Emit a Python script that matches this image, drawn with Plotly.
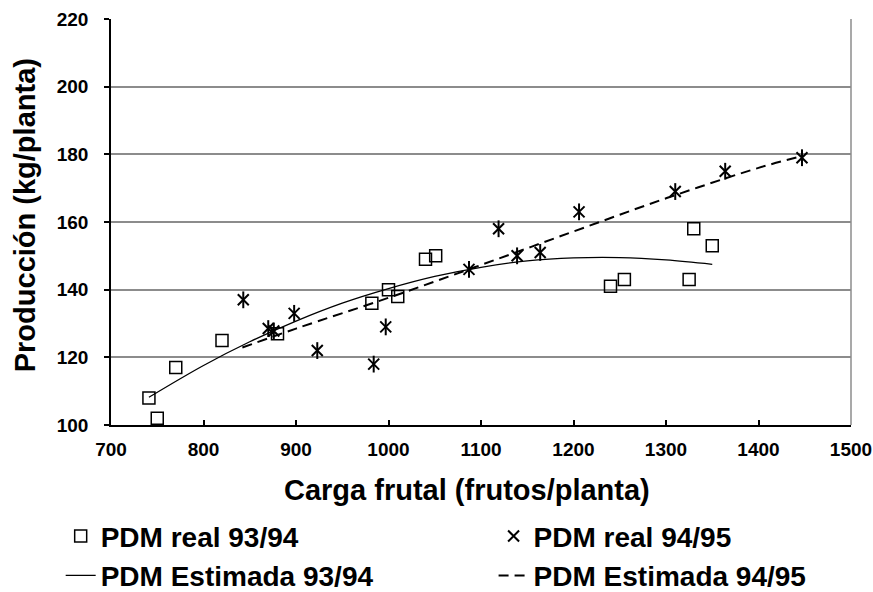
import plotly.graph_objects as go

# Observed data, PDM real 93/94 (squares)
real9394_x = [741, 750, 770, 820, 880, 982, 1000, 1010, 1040, 1051, 1240, 1255, 1325, 1330, 1350]
real9394_y = [108, 102, 117, 125, 127, 136, 140, 138, 149, 150, 141, 143, 143, 158, 153]

# Observed data, PDM real 94/95 (asterisks)
real9495_x = [843, 870, 876, 898, 923, 984, 997, 1087, 1119, 1139, 1164, 1206, 1310, 1364, 1447]
real9495_y = [137, 128.5, 127.8, 133, 122, 118, 129, 146, 158, 150, 151, 163, 169, 175, 179]

# Estimated curves
est9394_x = [741, 800, 850, 900, 950, 1000, 1050, 1100, 1150, 1200, 1250, 1300, 1350]
est9394_y = [108.2, 117.6, 124.6, 130.7, 136.0, 140.3, 143.9, 146.6, 148.5, 149.4, 149.5, 148.8, 147.5]

est9495_x = [842, 900, 1000, 1100, 1200, 1300, 1400, 1447]
est9495_y = [122.9, 128.5, 137.6, 147.3, 157.2, 167.0, 176.0, 179.5]

x_ticks = [700, 800, 900, 1000, 1100, 1200, 1300, 1400, 1500]
y_ticks = [100, 120, 140, 160, 180, 200, 220]

x_title = "Carga frutal (frutos/planta)"
y_title = "Producción (kg/planta)"

FONT = "Liberation Sans, Arial, sans-serif"

fig = go.Figure()
fig.add_trace(go.Scatter(
    x=real9394_x, y=real9394_y, mode="markers", name="PDM real 93/94",
    legend="legend", legendgroup="a",
    marker=dict(symbol="square-open", size=12, color="black", line=dict(width=1.5, color="black")),
))
fig.add_trace(go.Scatter(
    x=real9495_x, y=real9495_y, mode="markers", name="PDM real 94/95",
    legend="legend2", legendgroup="b",
    marker=dict(symbol="x-thin-open", size=11, color="black", line=dict(width=2, color="black")),
))
fig.add_trace(go.Scatter(
    x=est9394_x, y=est9394_y, mode="lines", name="PDM Estimada 93/94",
    legend="legend", legendgroup="c",
    line=dict(color="black", width=1.3, shape="spline"),
))
fig.add_trace(go.Scatter(
    x=est9495_x, y=est9495_y, mode="lines", name="PDM Estimada 94/95",
    legend="legend2", legendgroup="d",
    line=dict(color="black", width=2, dash="10px,6px", shape="spline"),
))
# vertical stroke of the asterisk markers
fig.add_trace(go.Scatter(
    x=real9495_x, y=real9495_y, mode="markers", showlegend=False, hoverinfo="skip",
    marker=dict(symbol="line-ns-open", size=12, color="black", line=dict(width=2, color="black")),
))

legend_style = dict(
    orientation="v", xanchor="left", yanchor="top", y=-0.2127,
    font=dict(family=FONT, size=28, weight="bold", color="black"),
    tracegroupgap=0, bgcolor="rgba(0,0,0,0)",
)

fig.update_layout(
    width=873, height=592,
    margin=dict(l=111, r=22, t=19, b=167, autoexpand=False),
    paper_bgcolor="white", plot_bgcolor="white",
    font=dict(family=FONT, color="black"),
    showlegend=True,
    legend=dict(x=-0.068, **legend_style),
    legend2=dict(x=0.517, **legend_style),
    shapes=[dict(type="line", xref="paper", yref="paper", x0=1, x1=1, y0=0, y1=1,
                 line=dict(color="#8c8c8c", width=1.5))],
    annotations=[
        dict(text=x_title, xref="paper", yref="paper", x=0.481, y=-0.16,
             xanchor="center", yanchor="middle", showarrow=False,
             font=dict(family=FONT, size=29, weight="bold", color="black")),
        dict(text=y_title, xref="paper", yref="paper", x=-0.116, y=0.517,
             xanchor="center", yanchor="middle", showarrow=False, textangle=-90,
             font=dict(family=FONT, size=29, weight="bold", color="black")),
    ],
)
fig.update_xaxes(
    range=[700, 1500], tickvals=x_ticks, ticktext=[str(v) for v in x_ticks],
    showgrid=False, zeroline=False,
    showline=True, linecolor="black", linewidth=1.5,
    ticks="inside", ticklen=5, tickwidth=1.5, tickcolor="black",
    tickfont=dict(family=FONT, size=19, weight="bold"),
    ticklabelstandoff=6,
)
fig.update_yaxes(
    range=[100, 220], tickvals=y_ticks, ticktext=[str(v) for v in y_ticks],
    showgrid=True, gridcolor="#8c8c8c", gridwidth=1.5, zeroline=False,
    showline=True, linecolor="black", linewidth=1.5,
    ticks="outside", ticklen=5, tickwidth=1.5, tickcolor="black",
    tickfont=dict(family=FONT, size=19, weight="bold"),
    ticklabelstandoff=12,
)

fig.write_html("out.html")
